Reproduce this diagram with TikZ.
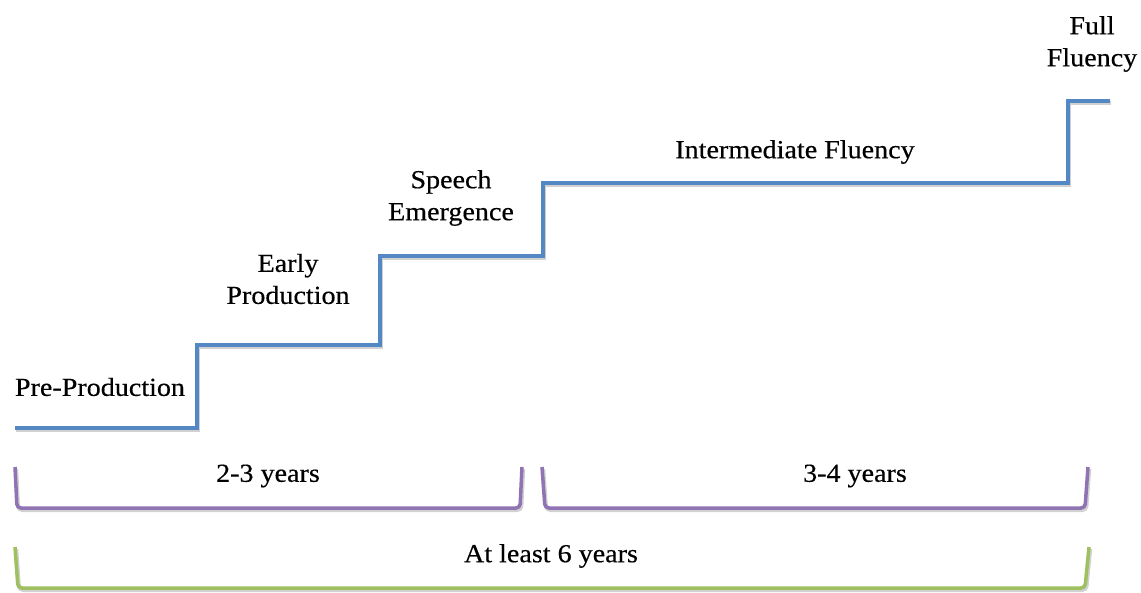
\documentclass[tikz,border=0pt]{standalone}
\usepackage{fontspec}
\setmainfont[FakeStretch=1.08, FakeBold=0.4]{Liberation Serif}
\usepackage{tikz}
\usetikzlibrary{positioning}

\definecolor{stairblue}{RGB}{84,136,196}
\definecolor{spanpurple}{RGB}{143,115,178}
\definecolor{spangreen}{RGB}{158,192,96}

\tikzset{
  stage/.style={align=center, font=\fontsize{26}{32}\selectfont, inner sep=0pt},
  span/.style={font=\fontsize{26}{32}\selectfont, inner sep=0pt},
  soft/.style={preaction={draw=black!18, line width=4pt, transform canvas={shift={(1.2pt,-2pt)}}}},
  stairs/.style={soft, draw=stairblue, line width=4pt},
  brace/.style={soft, line width=3.5pt, rounded corners=4pt}
}

\begin{document}
\begin{tikzpicture}[x=1pt, y=-1pt]
\useasboundingbox (0,0) rectangle (1141,593);
% the staircase
\draw[stairs] (15,428) -- (197,428) -- (197,345) -- (380,345) -- (380,256) -- (543,256)
  -- (543,183) -- (1068,183) -- (1068,101) -- (1110,101);
\node[stage, name = pre] at (100,387) {Pre-Production};
\node[stage, name = early] at (288,279) {Early\\Production};
\node[stage, name = speech] at (451,198) {Speech\\Emergence};
\node[stage, name = inter] at (795,152) {Intermediate Fluency};
\node[stage, name = full] at (1092,44) {Full\\Fluency};
% the spans of years
\draw[brace, spanpurple] (15,467) -- (17,508) -- (520,508) -- (522,467);
\node[span, name = first] at (268,476) {2-3 years};
\draw[brace, spanpurple] (542,467) -- (545,508) -- (1085,508) -- (1088,467);
\node[span, name = second] at (855,476) {3-4 years};
\draw[brace, spangreen] (15,547) -- (18,588) -- (1085,588) -- (1089,547);
\node[span, name = total] at (551,556) {At least 6 years};
\end{tikzpicture}
\end{document}
